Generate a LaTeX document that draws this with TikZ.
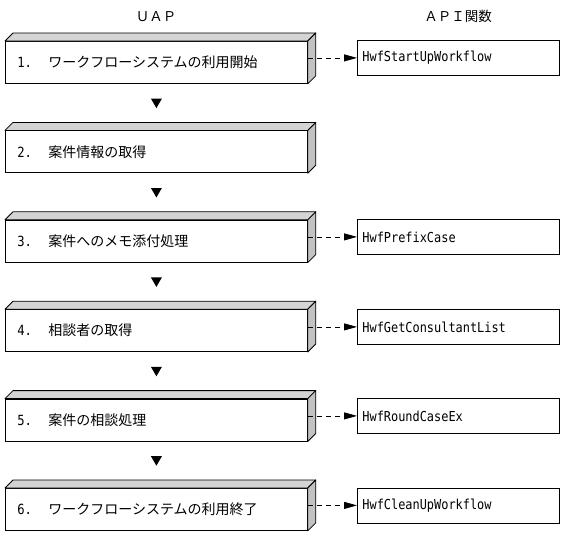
\documentclass[tikz,border=0pt]{standalone}
\usepackage{fontspec}
\newfontfamily\jp{Noto Sans CJK JP}
\newfontfamily\mono[FakeStretch=0.87]{DejaVu Sans Mono}
\usetikzlibrary{arrows.meta,calc}
\tikzset{
  stepbox/.style={draw=black, line width=0.8pt, fill=white, minimum width=302pt, minimum height=42pt,
    text width=278pt, align=left, inner xsep=12pt, inner ysep=0pt, anchor=north west,
    font=\fontsize{14}{16}\selectfont},
  apibox/.style={draw=black, line width=0.8pt, fill=white, minimum width=202pt, minimum height=35pt,
    text width=192pt, align=left, inner xsep=5pt, inner ysep=0pt, anchor=north west,
    font=\fontsize{13.7}{16}\mono},
  topface/.style={draw=black, line width=0.8pt, fill=black!17, line join=round},
  sideface/.style={draw=black, line width=0.8pt, fill=black!24, line join=round},
  dasharrow/.style={draw=black, line width=0.8pt, dash pattern=on 5pt off 4pt,
    -{Triangle[length=13pt,width=7pt]}},
  down/.style={fill=black},
  header/.style={font=\fontsize{13.5}{16}\jp, inner sep=0pt}
}
\newcommand\numlab[1]{\makebox[31pt][l]{\mono #1}\jp}
\begin{document}
\begin{tikzpicture}[x=1pt,y=-1pt]
\useasboundingbox (0,0) rectangle (562,533);
\node[header] (h1) at (156,17) {ＵＡＰ};
\node[header] (h2) at (458,16) {ＡＰＩ関数};
\foreach \i/\t/\lab in {
  1/41/{ワークフローシステムの利用開始},
  2/130.4/{案件情報の取得},
  3/219.8/{案件へのメモ添付処理},
  4/309.2/{相談者の取得},
  5/398.6/{案件の相談処理},
  6/488/{ワークフローシステムの利用終了}}{
  \node[stepbox] (s\i) at (5,\t) {\numlab{\i.}\lab};
  \filldraw[topface] (s\i.north west) -- ++(8,-8) -- ($(s\i.north east)+(8,-8)$) -- (s\i.north east) -- cycle;
  \filldraw[sideface] (s\i.north east) -- ++(8,-8) -- ($(s\i.south east)+(8,-8)$) -- (s\i.south east) -- cycle;
}
\node[apibox] (a1) at (357,40) {HwfStartUpWorkflow};
\node[apibox] (a3) at (357,219) {HwfPrefixCase};
\node[apibox] (a4) at (357,309) {HwfGetConsultantList};
\node[apibox] (a5) at (357,398) {HwfRoundCaseEx};
\node[apibox] (a6) at (357,487.5) {HwfCleanUpWorkflow};
\foreach \i in {1,3,4,5,6}{
  \draw[dasharrow] (s\i.east |- a\i.west) -- (a\i.west);
}
\foreach \i/\j in {1/2,2/3,3/4,4/5,5/6}{
  \coordinate (m\i) at ($(s\i.south)!0.5!($(s\j.north)+(0,-8)$)$);
  \fill[down] ($(m\i)+(-5.5,-4.5)$) -- ($(m\i)+(5.5,-4.5)$) -- ($(m\i)+(0,5)$) -- cycle;
}
\end{tikzpicture}
\end{document}
